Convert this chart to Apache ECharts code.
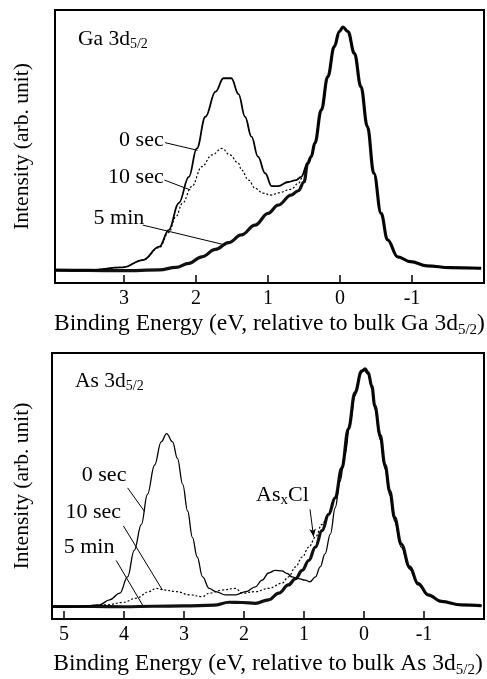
<!DOCTYPE html>
<html>
<head>
<meta charset="utf-8">
<script src="https://cdn.jsdelivr.net/npm/echarts@6/dist/echarts.min.js"></script>
<style>
  html, body { margin: 0; padding: 0; background: #fff; }
  #chart { width: 487px; height: 679px; }
</style>
</head>
<body>
<div id="chart"></div>
<script>
// Ga 3d5/2 spectra: [binding energy (eV), intensity (arb.)]
const ga0sec = [
    [3.96, 4.6], [3.5, 4.7], [3.02, 5.7], [2.74, 8.4], [2.51, 13.3], [2.38, 19.4], [2.24, 29.3],
    [2.10, 38.9], [1.99, 49.3], [1.87, 60.9], [1.73, 70.1], [1.62, 75.0], [1.51, 75.0], [1.41, 69.2],
    [1.32, 60.9], [1.23, 53.6], [1.14, 46.3], [1.04, 40.2], [0.95, 35.5], [0.86, 35.5], [0.72, 37.0],
    [0.61, 37.7], [0.54, 38.9], [0.45, 43.8], [0.40, 46.3], [0.35, 51.2], [0.26, 63.4], [0.17, 75.6],
    [0.08, 86.6], [0.01, 92.1], [-0.04, 93.7], [-0.11, 92.1], [-0.20, 84.1], [-0.29, 71.9], [-0.38, 57.3],
    [-0.47, 40.2], [-0.57, 25.5], [-0.66, 15.8], [-0.80, 9.6], [-0.98, 7.8], [-1.21, 6.3], [-1.53, 5.6],
    [-1.96, 5.4]
];
const ga10sec = [
    [3.96, 4.6], [3.5, 4.7], [3.02, 5.7], [2.74, 8.4], [2.51, 13.0], [2.38, 18.5], [2.28, 24.3],
    [2.19, 29.2], [2.06, 35.3], [1.92, 42.6], [1.78, 46.9], [1.64, 49.3], [1.53, 46.9], [1.41, 43.8],
    [1.37, 41.4], [1.27, 37.7], [1.18, 34.7], [1.07, 32.9], [0.95, 32.2], [0.86, 33.0], [0.68, 34.3],
    [0.58, 36.5], [0.50, 40.0], [0.45, 43.8], [0.40, 46.3], [0.35, 51.2], [0.26, 63.4], [0.17, 75.6],
    [0.08, 86.6], [0.01, 92.1], [-0.04, 93.7], [-0.11, 92.1], [-0.20, 84.1], [-0.29, 71.9], [-0.38, 57.3],
    [-0.47, 40.2], [-0.57, 25.5], [-0.66, 15.8], [-0.80, 9.6], [-0.98, 7.8], [-1.21, 6.3], [-1.53, 5.6],
    [-1.96, 5.4]
];
const ga5min = [
    [3.96, 4.7], [3.5, 4.6], [3.02, 4.5], [2.51, 4.8], [2.28, 5.7], [2.10, 7.2], [1.92, 9.6],
    [1.73, 12.3], [1.55, 14.8], [1.37, 17.6], [1.18, 21.2], [1.00, 25.5], [0.86, 28.5], [0.68, 32.2],
    [0.58, 33.8], [0.50, 37.0], [0.45, 43.8], [0.40, 46.3], [0.35, 51.2], [0.26, 63.4], [0.17, 75.6],
    [0.08, 86.6], [0.01, 92.1], [-0.04, 93.7], [-0.11, 92.1], [-0.20, 84.1], [-0.29, 71.9], [-0.38, 57.3],
    [-0.47, 40.2], [-0.57, 25.5], [-0.66, 15.8], [-0.80, 9.6], [-0.98, 7.8], [-1.21, 6.3], [-1.53, 5.6],
    [-1.96, 5.4]
];

// As 3d5/2 spectra
const as0sec = [
    [5.2, 4.5], [4.8, 4.6], [4.41, 5.3], [4.24, 7.2], [4.07, 9.7], [3.94, 15.8], [3.83, 25.8],
    [3.71, 35.6], [3.61, 46.8], [3.49, 57.9], [3.38, 66.6], [3.29, 69.7], [3.19, 66.6], [3.11, 60.4],
    [3.02, 50.5], [2.94, 40.6], [2.86, 30.7], [2.78, 23.3], [2.69, 15.8], [2.58, 11.5], [2.47, 10.3],
    [2.31, 9.1], [2.14, 9.1], [1.97, 10.3], [1.81, 12.1], [1.70, 14.6], [1.59, 17.3], [1.48, 18.3],
    [1.37, 18.1], [1.28, 17.1], [1.20, 15.8], [1.09, 15.2], [0.98, 14.6], [0.90, 14.0], [0.81, 15.8],
    [0.73, 19.6], [0.65, 24.5], [0.56, 31.9], [0.48, 41.8], [0.40, 51.7], [0.32, 61.6], [0.23, 74.0],
    [0.15, 83.9], [0.07, 91.9], [0.01, 93.8], [-0.07, 92.0], [-0.13, 86.5], [-0.18, 79.0], [-0.27, 67.5],
    [-0.35, 56.5], [-0.43, 46.5], [-0.51, 36.8], [-0.62, 27.0], [-0.76, 18.8], [-0.90, 12.8],
    [-1.07, 8.8], [-1.29, 6.5], [-1.62, 5.3], [-1.96, 5.0]
];
const as10sec = [
    [5.2, 4.6], [4.8, 4.7], [4.30, 5.3], [4.02, 6.2], [3.80, 7.8], [3.58, 10.3], [3.47, 11.5],
    [3.33, 10.9], [3.13, 10.3], [2.91, 9.1], [2.69, 8.4], [2.58, 9.7], [2.36, 10.9], [2.14, 11.5],
    [2.03, 9.7], [1.81, 10.3], [1.59, 11.5], [1.37, 13.4], [1.26, 15.8], [1.14, 19.6], [1.03, 23.3],
    [0.92, 27.0], [0.81, 30.7], [0.70, 35.6], [0.59, 39.3], [0.48, 45.5], [0.37, 56.7], [0.26, 71.5],
    [0.15, 85.1], [0.04, 93.2], [-0.02, 94.0], [-0.07, 92.6], [-0.13, 87.6], [-0.18, 80.2], [-0.27, 69.0],
    [-0.35, 57.9], [-0.43, 48.0], [-0.51, 38.1], [-0.62, 28.2], [-0.76, 19.6], [-0.90, 13.4],
    [-1.07, 9.1], [-1.29, 6.6], [-1.62, 5.3], [-1.96, 5.0]
];
const as5min = [
    [5.2, 4.7], [4.5, 4.7], [4.0, 4.6], [3.5, 4.8], [3.0, 4.9], [2.5, 5.2], [2.25, 6.3],
    [2.03, 6.2], [1.81, 5.9], [1.59, 7.2], [1.42, 9.7], [1.26, 12.8], [1.14, 15.2], [1.03, 18.3],
    [0.92, 22.0], [0.81, 27.0], [0.70, 33.2], [0.59, 39.3], [0.48, 45.5], [0.37, 56.7], [0.26, 71.5],
    [0.15, 85.1], [0.04, 93.2], [-0.02, 94.0], [-0.07, 92.6], [-0.13, 87.6], [-0.18, 80.2], [-0.27, 69.0],
    [-0.35, 57.9], [-0.43, 48.0], [-0.51, 38.1], [-0.62, 28.2], [-0.76, 19.6], [-0.90, 13.4],
    [-1.07, 9.1], [-1.29, 6.6], [-1.62, 5.3], [-1.96, 5.0]
];

// annotation texts (anchor = right end of text) and their leader lines
const gaLabels = [['0 sec', 2.45, 52.4], ['10 sec', 2.45, 38.9], ['5 min', 2.72, 23.8]];
const gaLeaders = [[2.43, 51.4, 1.98, 48.6], [2.44, 37.7, 2.08, 34.1], [2.74, 21.2, 1.59, 13.9]];
const asLabels = [['0 sec', 3.96, 54.2], ['10 sec', 4.05, 40.0], ['5 min', 4.16, 27.0], ['{a|As}{s|x}{a|Cl}', 0.92, 46.2]];
const asLeaders = [[3.94, 49.3, 3.66, 40.5], [4.01, 35.0, 3.36, 10.9], [4.13, 22.0, 3.69, 5.2]];
const asArrow = [0.90, 41.2, 0.84, 30.9];

const FONT = 'Liberation Serif';
const rich = {
    a: { fontFamily: FONT, fontSize: 23.5, fontWeight: 'normal', lineHeight: 26, verticalAlign: 'top', color: '#000' },
    s: { fontFamily: FONT, fontSize: 15, fontWeight: 'normal', lineHeight: 15, verticalAlign: 'bottom', color: '#000' }
};
const richSmall = {
    a: { fontFamily: FONT, fontSize: 21.5, fontWeight: 'normal', lineHeight: 23, verticalAlign: 'top', color: '#000' },
    s: { fontFamily: FONT, fontSize: 14, fontWeight: 'normal', lineHeight: 14, verticalAlign: 'bottom', color: '#000' }
};

function xAxisFor(gridIndex, max, name, gap) {
    return {
        gridIndex: gridIndex,
        type: 'value',
        inverse: true,
        min: -2,
        max: max,
        interval: 1,
        axisLine: { show: false },
        axisTick: { inside: true, length: 8, lineStyle: { color: '#000', width: 1.5 } },
        axisLabel: {
            margin: 6,
            fontFamily: FONT,
            fontSize: 20,
            color: '#000',
            formatter: v => (Number.isInteger(v) && v > -2) ? String(v) : ''
        },
        splitLine: { show: false },
        name: name,
        nameLocation: 'middle',
        nameGap: gap,
        nameTextStyle: { fontFamily: FONT, fontSize: 23.5, color: '#000', rich: rich }
    };
}

function yAxisFor(gridIndex, gap) {
    return {
        gridIndex: gridIndex,
        type: 'value',
        min: 0,
        max: 100,
        axisLine: { show: false },
        axisTick: { show: false },
        axisLabel: { show: false },
        splitLine: { show: false },
        name: 'Intensity (arb. unit)',
        nameLocation: 'middle',
        nameRotate: 90,
        nameGap: gap,
        nameTextStyle: { fontFamily: FONT, fontSize: 21.5, color: '#000' }
    };
}

function leaderLines(list) {
    return list.map(l => [{ coord: [l[0], l[1]] }, { coord: [l[2], l[3]] }]);
}

function labelPoints(list) {
    return list.map(l => ({ name: l[0], coord: [l[1], l[2]] }));
}

function spectrum(name, data, idx, style) {
    return {
        name: name,
        type: 'line',
        xAxisIndex: idx,
        yAxisIndex: idx,
        data: data,
        showSymbol: false,
        smooth: 0.4,
        smoothMonotone: 'x',
        lineStyle: style
    };
}

const chart = echarts.init(document.getElementById('chart'));

const gaMain = spectrum('0 sec', ga0sec, 0, { color: '#000', width: 1.8 });
gaMain.markLine = {
    silent: true,
    symbol: ['none', 'none'],
    label: { show: false },
    lineStyle: { color: '#000', width: 1, type: 'solid' },
    data: leaderLines(gaLeaders)
};
gaMain.markPoint = {
    silent: true,
    symbol: 'circle',
    symbolSize: 0,
    label: {
        show: true, position: 'left', distance: 0,
        fontFamily: FONT, fontSize: 22, color: '#000',
        formatter: p => p.name
    },
    data: labelPoints(gaLabels)
};

const asMain = spectrum('0 sec', as0sec, 1, { color: '#000', width: 1.3 });
asMain.markLine = {
    silent: true,
    symbol: ['none', 'none'],
    label: { show: false },
    lineStyle: { color: '#000', width: 1, type: 'solid' },
    data: leaderLines(asLeaders).concat([[
        { coord: [asArrow[0], asArrow[1]], symbol: 'none' },
        { coord: [asArrow[2], asArrow[3]], symbol: 'arrow', symbolSize: [5, 8] }
    ]])
};
asMain.markPoint = {
    silent: true,
    symbol: 'circle',
    symbolSize: 0,
    label: {
        show: true, position: 'left', distance: 0,
        fontFamily: FONT, fontSize: 22, color: '#000',
        formatter: p => p.name,
        rich: {
            a: { fontFamily: FONT, fontSize: 22, lineHeight: 23, verticalAlign: 'top', color: '#000' },
            s: { fontFamily: FONT, fontSize: 15, lineHeight: 15, verticalAlign: 'bottom', color: '#000' }
        }
    },
    data: labelPoints(asLabels)
};

const option = {
    animation: false,
    backgroundColor: '#fff',
    title: [
        { text: '{a|Ga 3d}{s|5/2}', left: 78, top: 28, padding: 0, textStyle: { fontWeight: 'normal', rich: richSmall } },
        { text: '{a|As 3d}{s|5/2}', left: 75, top: 370, padding: 0, textStyle: { fontWeight: 'normal', rich: richSmall } }
    ],
    grid: [
        { left: 55, top: 10, width: 432, height: 273, show: true, borderColor: '#000', borderWidth: 2 },
        { left: 52, top: 353, width: 434, height: 269, show: true, borderColor: '#000', borderWidth: 2 }
    ],
    xAxis: [
        xAxisFor(0, 3.96, '{a|Binding Energy (eV, relative to bulk Ga 3d}{s|5/2}{a|)}', 29),
        xAxisFor(1, 5.2, '{a|Binding Energy (eV, relative to bulk As 3d}{s|5/2}{a|)}', 33)
    ],
    yAxis: [yAxisFor(0, 22), yAxisFor(1, 19)],
    series: [
        spectrum('5 min', ga5min, 0, { color: '#111', width: 3.2 }),
        spectrum('10 sec', ga10sec, 0, { color: '#000', width: 1.2, type: [2, 2] }),
        gaMain,
        spectrum('5 min', as5min, 1, { color: '#111', width: 3.2 }),
        spectrum('10 sec', as10sec, 1, { color: '#000', width: 1.2, type: [2, 2] }),
        asMain
    ]
};

chart.setOption(option);

window.addEventListener('resize', () => {
    chart.resize();
});
</script>
</body>
</html>
